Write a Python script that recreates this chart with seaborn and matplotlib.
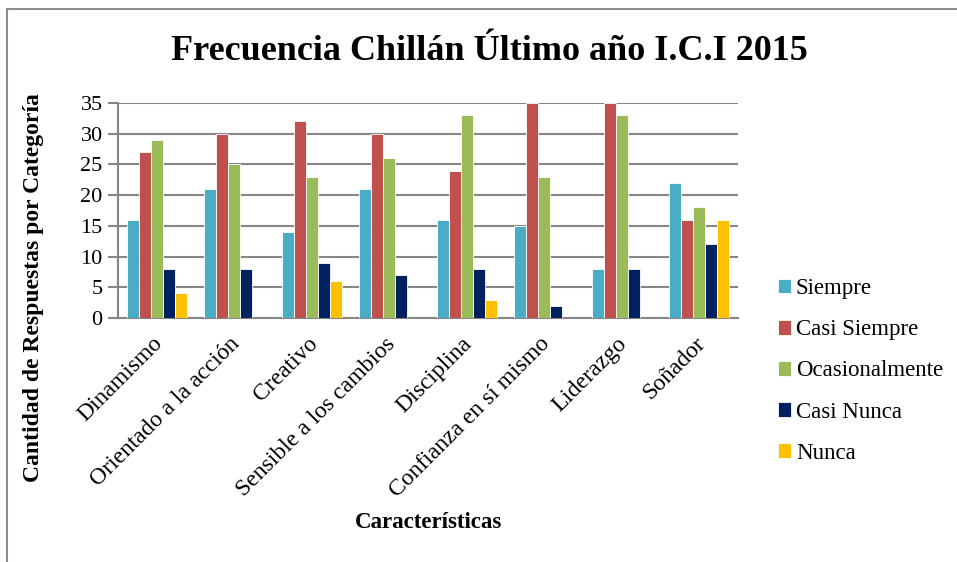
import pandas as pd
import matplotlib.pyplot as plt
import matplotlib.transforms as mtransforms
import seaborn as sns
from matplotlib.patches import Rectangle

# Data
caracteristicas = ['Dinamismo', 'Orientado a la acción', 'Creativo', 'Sensible a los cambios',
                   'Disciplina', 'Confianza en sí mismo', 'Liderazgo', 'Soñador']
siempre = [16, 21, 14, 21, 16, 15, 8, 22]
casi_siempre = [27, 30, 32, 30, 24, 35, 35, 16]
ocasionalmente = [29, 25, 23, 26, 33, 23, 33, 18]
casi_nunca = [8, 8, 9, 7, 8, 2, 8, 12]
nunca = [4, 0, 6, 0, 3, 0, 0, 16]

series = {
    'Siempre': siempre,
    'Casi Siempre': casi_siempre,
    'Ocasionalmente': ocasionalmente,
    'Casi Nunca': casi_nunca,
    'Nunca': nunca,
}
colores = ['#4BACC6', '#C0504D', '#9BBB59', '#002060', '#FFC000']

rows = []
for nombre, valores in series.items():
    for c, v in zip(caracteristicas, valores):
        rows.append({'Característica': c, 'Frecuencia': nombre, 'Cantidad': v})
df = pd.DataFrame(rows)

sns.set_style('white')
plt.rcParams['font.family'] = ['Liberation Serif', 'DejaVu Serif']
plt.rcParams['text.color'] = 'black'
plt.rcParams['axes.labelcolor'] = 'black'
plt.rcParams['xtick.color'] = 'black'
plt.rcParams['ytick.color'] = 'black'

fig = plt.figure(figsize=(9.57, 5.62), dpi=100)
W, H = 957, 562
ax = fig.add_axes([118 / W, 1 - 318 / H, (738 - 118) / W, (318 - 103) / H])

# chart area border (cut off on right and bottom like the reference)
fig.patches.append(Rectangle((7 / W, -0.1), 1.2, 1 - 9 / H + 0.1, transform=fig.transFigure,
                             fill=False, edgecolor='#8C8C8C', linewidth=1.5))

sns.barplot(data=df, x='Característica', y='Cantidad', hue='Frecuencia',
            palette=colores, saturation=1, width=0.77, edgecolor='white', linewidth=0.6,
            ax=ax, zorder=3)

ax.set_ylim(0, 35)
ax.set_yticks(range(0, 36, 5))
ax.yaxis.grid(True, color='#868686', linewidth=1.5, zorder=0)
ax.set_axisbelow(True)
for s in ['top', 'right']:
    ax.spines[s].set_visible(False)
for s in ['left', 'bottom']:
    ax.spines[s].set_color('#868686')
    ax.spines[s].set_linewidth(1.5)

ax.tick_params(axis='y', which='both', left=True, length=7, width=1.5, color='#868686',
               labelcolor='black', labelsize=16, pad=4)
ax.tick_params(axis='x', bottom=False, labelcolor='black', labelsize=17, pad=6)
shift = mtransforms.ScaledTranslation(-5 / 100, -2 / 100, fig.dpi_scale_trans)
for lbl in ax.get_xticklabels():
    lbl.set_rotation(45)
    lbl.set_ha('right')
    lbl.set_va('top')
    lbl.set_rotation_mode('anchor')
    lbl.set_transform(lbl.get_transform() + shift)

ax.set_xlabel('')
ax.set_ylabel('Cantidad de Respuestas por Categoría', fontsize=17, fontweight='bold')
ax.yaxis.set_label_coords(-0.12, 0.14, transform=ax.transAxes)
fig.text(429 / W, 1 - 523 / H, 'Características', fontsize=16.5, fontweight='bold',
         ha='center', va='center')
fig.text(489 / W, 1 - 52 / H, 'Frecuencia Chillán Último año I.C.I 2015', fontsize=26,
         fontweight='bold', ha='center', va='center')

leg = ax.legend(loc='center left', bbox_to_anchor=(757 / W, 1 - 371 / H),
                bbox_transform=fig.transFigure, frameon=False, fontsize=16.5,
                handlelength=0.6, handleheight=0.6, handletextpad=0.2, labelspacing=0.88)

fig.savefig('out.png', dpi=100)
